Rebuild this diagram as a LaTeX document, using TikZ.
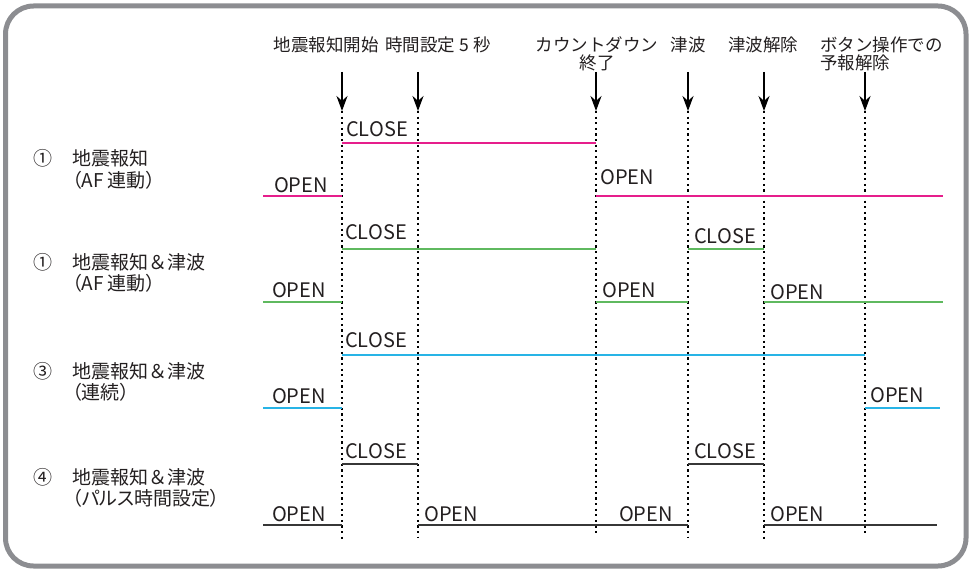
\documentclass[tikz,border=0pt]{standalone}
\usepackage{fontspec}
\setmainfont{Noto Sans CJK JP}
\newfontfamily\rowfont[RawFeature=+palt]{Noto Sans CJK JP}
\usetikzlibrary{arrows.meta}

\definecolor{framegray}{RGB}{140,141,145}
\definecolor{txtgray}{RGB}{35,31,32}
\definecolor{sigpink}{RGB}{230,30,140}
\definecolor{siggreen}{RGB}{95,185,95}
\definecolor{sigblue}{RGB}{40,180,230}
\definecolor{sigdark}{RGB}{55,55,55}

\tikzset{
	sigline/.style={line width=2pt},
	evarrow/.style={line width=2pt, -{Stealth[length=15pt,width=11pt]}},
	evtick/.style={line width=2.2pt, dash pattern=on 2.2pt off 3.4pt},
	state/.style={inner sep=0pt, text=txtgray, font=\fontsize{20}{24}\selectfont},
	stateL/.style={state, anchor=base west},
	stateR/.style={state, anchor=base east},
	evlabel/.style={inner sep=0pt, text=txtgray, anchor=base, align=center, font=\fontsize{17.5}{18}\selectfont},
	rownum/.style={inner sep=0pt, text=txtgray, anchor=base, font=\fontsize{19}{21.5}\selectfont},
	rowlabel/.style={inner sep=0pt, text=txtgray, anchor=base west, align=left, font=\rowfont\fontsize{19}{21.5}\selectfont}
}

\begin{document}
\begin{tikzpicture}[x=1pt,y=-1pt]
	\useasboundingbox (0,0) rectangle (971,572);
	\draw[framegray, line width=5pt, rounded corners=28pt] (5.5,6) rectangle (966,566);

	% events on top (two-line labels sit on their last line)
	\node[evlabel] (ev1) at (326,52) {地震報知開始};
	\node[evlabel] (ev2) at (438,52) {時間設定 5 秒};
	\node[evlabel] (ev3) at (597,70) {カウントダウン\\終了};
	\node[evlabel] (ev4) at (688,52) {津波};
	\node[evlabel] (ev5) at (763,52) {津波解除};
	\node[evlabel, anchor=base west, align=left] (ev6) at (820,70) {ボタン操作での\\予報解除};

	\coordinate (t1) at (342,72);  \coordinate (b1) at (342,111); \coordinate (e1) at (342,541);
	\coordinate (t2) at (418,72);  \coordinate (b2) at (418,111); \coordinate (e2) at (418,538);
	\coordinate (t3) at (596,72);  \coordinate (b3) at (596,111); \coordinate (e3) at (596,535);
	\coordinate (t4) at (688,72);  \coordinate (b4) at (688,111); \coordinate (e4) at (688,538);
	\coordinate (t5) at (764,72);  \coordinate (b5) at (764,111); \coordinate (e5) at (764,540);
	\coordinate (t6) at (865,72);  \coordinate (b6) at (865,111); \coordinate (e6) at (865,536);
	\foreach \i in {1,...,6} {
		\draw[evarrow] (t\i) -- (b\i);
		\draw[evtick] (b\i) -- (e\i);
	}

	% row labels
	\node[rownum] (n1) at (43,166) {①};
	\node[rowlabel] (m1) at (72,187.5) {地震報知\\（AF 連動）};
	\node[rownum] (n2) at (43,269) {①};
	\node[rowlabel] (m2) at (72,290.5) {地震報知{\rmfamily ＆}津波\\（AF 連動）};
	\node[rownum] (n3) at (43,378) {③};
	\node[rowlabel] (m3) at (72,399.5) {地震報知{\rmfamily ＆}津波\\（連続）};
	\node[rownum] (n4) at (43,484) {④};
	\node[rowlabel] (m4) at (72,505.5) {地震報知{\rmfamily ＆}津波\\（パルス時間設定）};

	% row 1
	\draw[sigline, sigpink] (263,196) -- (342,196) (342,143) -- (596,143) (596,196) -- (943,196);
	\node[stateR] (o11) at (328,193) {OPEN};
	\node[stateL] (c11) at (346,137) {CLOSE};
	\node[stateL] (o12) at (600,185) {OPEN};

	% row 2
	\draw[sigline, siggreen] (263,302) -- (342,302) (342,249) -- (596,249) (596,302) -- (688,302)
		(688,249) -- (764,249) (764,302) -- (943,302);
	\node[stateR] (o21) at (326,297) {OPEN};
	\node[stateL] (c21) at (345,239) {CLOSE};
	\node[stateL] (o22) at (602,297) {OPEN};
	\node[stateL] (c22) at (694,243) {CLOSE};
	\node[stateL] (o23) at (770,299) {OPEN};

	% row 3
	\draw[sigline, sigblue] (263,408) -- (342,408) (342,355) -- (865,355) (865,408) -- (940,408);
	\node[stateR] (o31) at (326,403) {OPEN};
	\node[stateL] (c31) at (345,347) {CLOSE};
	\node[stateL] (o32) at (870,402) {OPEN};

	% row 4
	\draw[sigline, sigdark] (263,525) -- (342,525) (342,464) -- (418,464) (418,525) -- (688,525)
		(688,464) -- (764,464) (764,525) -- (937,525);
	\node[stateR] (o41) at (326,521) {OPEN};
	\node[stateL] (c41) at (345,458) {CLOSE};
	\node[stateL] (o42) at (424,521) {OPEN};
	\node[stateR] (o43) at (673,521) {OPEN};
	\node[stateL] (c42) at (694,458) {CLOSE};
	\node[stateL] (o44) at (770,521) {OPEN};
\end{tikzpicture}
\end{document}
